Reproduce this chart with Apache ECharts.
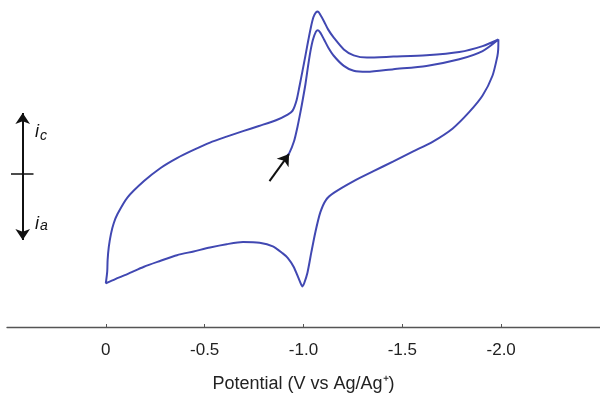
<!DOCTYPE html>
<html>
<head>
<meta charset="utf-8">
<script src="https://cdn.jsdelivr.net/npm/echarts@6/dist/echarts.min.js"></script>
<style>
html,body{margin:0;padding:0;background:#fff;}
#chart{width:600px;height:398px;}
</style>
</head>
<body>
<div id="chart"></div>
<script>
// Potential (V vs Ag/Ag+) and current (arbitrary units, cathodic positive)
// First sweep: start near -0.92 V, scanning negative to the -2.0 V vertex
const firstSweep = [
  [-0.915, 1.5], [-0.928, 1.8], [-0.952, 3.0], [-0.970, 4.5], [-0.985, 6.0],
  [-0.997, 7.3], [-1.010, 8.8], [-1.023, 10.6], [-1.035, 12.1], [-1.048, 13.3],
  [-1.063, 14.1], [-1.073, 14.23], [-1.085, 14.0], [-1.104, 13.3], [-1.125, 12.5],
  [-1.154, 11.63], [-1.204, 10.63], [-1.254, 10.13], [-1.321, 10.03], [-1.455, 10.3],
  [-1.622, 10.63], [-1.788, 11.3], [-1.906, 12.13], [-1.986, 13.3]
];
// Reverse sweep: -2.0 V back to 0 V (anodic peak near -1.0 V)
const reverseSweep = [
  [-1.985, 12.3], [-1.981, 11.63], [-1.956, 9.63], [-1.906, 7.63], [-1.839, 5.97],
  [-1.755, 4.3], [-1.655, 2.97], [-1.555, 1.97], [-1.455, 0.97], [-1.354, -0.03],
  [-1.254, -1.03], [-1.155, -2.2], [-1.115, -2.9], [-1.085, -4.2], [-1.060, -6.2],
  [-1.040, -8.2], [-1.020, -10.3], [-1.003, -11.4], [-0.995, -11.7], [-0.980, -11.1],
  [-0.950, -9.7], [-0.920, -8.8], [-0.895, -8.35], [-0.845, -7.63], [-0.778, -7.27],
  [-0.694, -7.2], [-0.611, -7.42], [-0.527, -7.75], [-0.444, -8.15], [-0.360, -8.53],
  [-0.277, -9.1], [-0.193, -9.7], [-0.109, -10.45], [-0.048, -10.95], [0.000, -11.37]
];
// Second sweep: 0 V to the -2.0 V vertex
const secondSweep = [
  [-0.007, -10.2], [-0.009, -9.03], [-0.015, -7.7], [-0.026, -6.37], [-0.040, -5.3],
  [-0.059, -4.37], [-0.109, -2.7], [-0.193, -1.03], [-0.277, 0.3], [-0.360, 1.3],
  [-0.444, 2.13], [-0.527, 2.87], [-0.611, 3.47], [-0.694, 4.03], [-0.778, 4.57],
  [-0.861, 5.13], [-0.920, 5.7], [-0.945, 6.1], [-0.965, 7.15], [-0.980, 8.6],
  [-0.995, 10.13], [-1.010, 11.7], [-1.025, 13.3], [-1.038, 14.6], [-1.050, 15.55],
  [-1.063, 16.05], [-1.073, 16.13], [-1.085, 15.8], [-1.104, 15.13], [-1.125, 14.3],
  [-1.154, 13.47], [-1.204, 12.3], [-1.254, 11.7], [-1.321, 11.47], [-1.455, 11.57],
  [-1.622, 11.7], [-1.788, 12.03], [-1.906, 12.63], [-1.986, 13.3]
];
// Tick labels
const tickValues = [0, -0.5, -1.0, -1.5, -2.0];
// Start-direction arrow (data coordinates)
const arrowTail = [-0.828, -1.03];
const arrowTip = [-0.927, 1.7];

const chart = echarts.init(document.getElementById('chart'), null, {renderer: 'canvas'});
const FONT = '"Liberation Sans", Arial, Helvetica, sans-serif';
const curve = firstSweep.concat(reverseSweep, secondSweep);

chart.setOption({
  backgroundColor: '#ffffff',
  animation: false,
  grid: {left: 7, top: 0, width: 598.5, height: 331, containLabel: false},
  xAxis: {
    type: 'value',
    inverse: true,
    min: -2.5,
    max: 0.5,
    interval: 0.5,
    name: 'Potential (V vs Ag/Ag\u207A)',
    nameLocation: 'middle',
    nameGap: 48,
    nameTextStyle: {fontFamily: FONT, fontSize: 18, color: '#222'},
    axisLine: {onZero: false, lineStyle: {color: '#555', width: 1.3}},
    axisTick: {show: true, inside: true, length: 3, customValues: tickValues, lineStyle: {color: '#555'}},
    axisLabel: {
      customValues: tickValues,
      margin: 15,
      fontFamily: FONT,
      fontSize: 17,
      color: '#222',
      formatter: v => (v === 0 ? '0' : v.toFixed(1))
    },
    splitLine: {show: false}
  },
  yAxis: {
    type: 'value',
    show: false,
    min: -15.8,
    max: 17.3,
    splitLine: {show: false}
  },
  series: [{
    type: 'line',
    data: curve,
    showSymbol: false,
    smooth: 0.25,
    lineStyle: {color: '#4148b2', width: 2},
    z: 2,
    markLine: {
      silent: true,
      animation: false,
      label: {show: false},
      emphasis: {disabled: true},
      data: [
        [
          {coord: arrowTail, symbol: 'none', lineStyle: {color: '#111', width: 2, type: 'solid'}},
          {coord: arrowTip, symbol: 'arrow', symbolSize: 11}
        ],
        [
          {x: 22.7, y: 240, symbol: 'arrow', symbolSize: 11, lineStyle: {color: '#111', width: 2, type: 'solid'}},
          {x: 22.7, y: 113, symbol: 'arrow', symbolSize: 11}
        ],
        [
          {x: 11, y: 174, symbol: 'none', lineStyle: {color: '#111', width: 1.5, type: 'solid'}},
          {x: 33.5, y: 174, symbol: 'none'}
        ]
      ]
    }
  }],
  graphic: [
    {type: 'text', x: 35, y: 132, style: {text: 'i', font: 'italic 18px ' + FONT, fill: '#111', verticalAlign: 'middle'}},
    {type: 'text', x: 40, y: 136, style: {text: 'c', font: 'italic 14px ' + FONT, fill: '#111', verticalAlign: 'middle'}},
    {type: 'text', x: 35, y: 224, style: {text: 'i', font: 'italic 18px ' + FONT, fill: '#111', verticalAlign: 'middle'}},
    {type: 'text', x: 40, y: 226.5, style: {text: 'a', font: 'italic 14px ' + FONT, fill: '#111', verticalAlign: 'middle'}}
  ]
});
</script>
</body>
</html>
